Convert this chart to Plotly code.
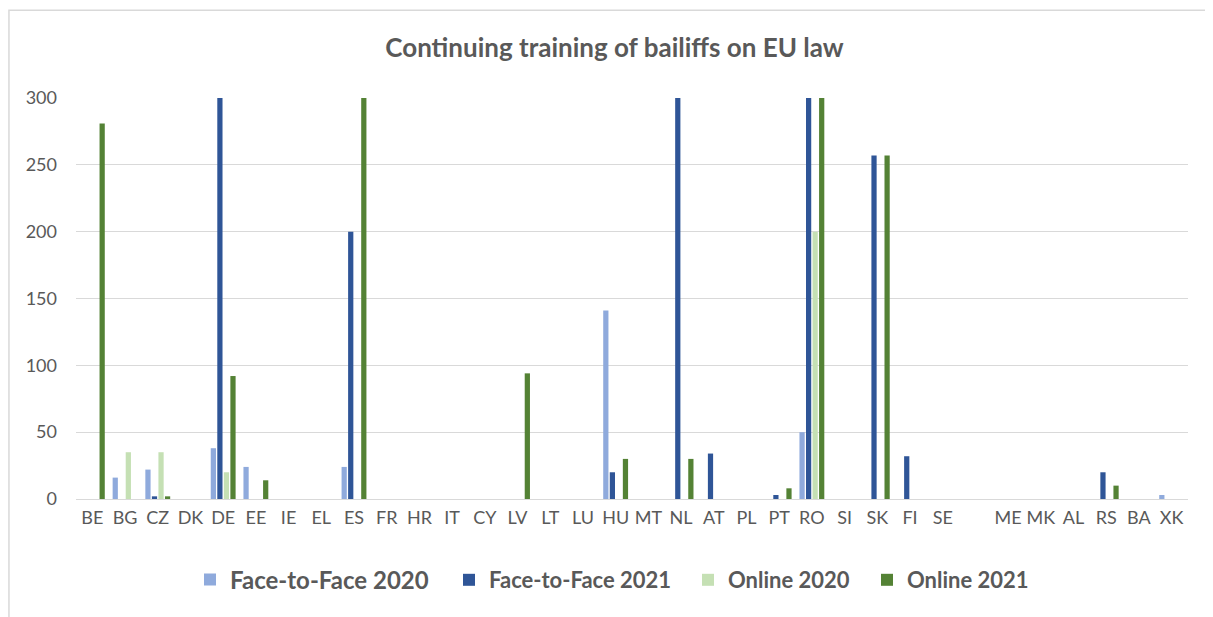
import plotly.graph_objects as go

categories = ["BE", "BG", "CZ", "DK", "DE", "EE", "IE", "EL", "ES", "FR", "HR", "IT", "CY", "LV",
              "LT", "LU", "HU", "MT", "NL", "AT", "PL", "PT", "RO", "SI", "SK", "FI", "SE", " ",
              "ME", "MK", "AL", "RS", "BA", "XK"]

f2f_2020 = [0, 16, 22, 0, 38, 24, 0, 0, 24, 0, 0, 0, 0, 0,
            0, 0, 141, 0, 0, 0, 0, 0, 50, 0, 0, 0, 0, 0,
            0, 0, 0, 0, 0, 3]
f2f_2021 = [0, 0, 2, 0, 300, 0, 0, 0, 200, 0, 0, 0, 0, 0,
            0, 0, 20, 0, 300, 34, 0, 3, 300, 0, 257, 32, 0, 0,
            0, 0, 0, 20, 0, 0]
online_2020 = [0, 35, 35, 0, 20, 0, 0, 0, 0, 0, 0, 0, 0, 0,
               0, 0, 0, 0, 0, 0, 0, 0, 200, 0, 0, 0, 0, 0,
               0, 0, 0, 0, 0, 0]
online_2021 = [281, 0, 2, 0, 92, 14, 0, 0, 300, 0, 0, 0, 0, 94,
               0, 0, 30, 0, 30, 0, 0, 8, 300, 0, 257, 0, 0, 0,
               0, 0, 0, 10, 0, 0]

y_ticks = [0, 50, 100, 150, 200, 250, 300]

series_names = ["Face-to-Face 2020", "Face-to-Face 2021", "Online 2020", "Online 2021"]
series_values = [f2f_2020, f2f_2021, online_2020, online_2021]
series_colors = ["#8FAADC", "#2F5597", "#C5E0B4", "#548235"]
legend_ids = ["legend", "legend2", "legend3", "legend4"]
legend_font_sizes = [24, 22, 22, 22]
legend_left_px = [190, 449, 688, 867]

plot_left, plot_w = 76, 1112

fig = go.Figure()
for name, vals, col, lid in zip(series_names, series_values, series_colors, legend_ids):
    fig.add_trace(go.Bar(x=categories, y=vals, name=name, legend=lid,
                         marker=dict(color=col, line=dict(width=0))))

grey = "#595959"
legend_layouts = {}
for lid, fs, lx in zip(legend_ids, legend_font_sizes, legend_left_px):
    legend_layouts[lid] = dict(orientation="h", x=(lx - plot_left) / plot_w, xanchor="left",
                               y=-0.202, yanchor="middle", bgcolor="rgba(0,0,0,0)",
                               font=dict(size=fs, color=grey, weight="bold"))

fig.update_layout(
    width=1213, height=617,
    barmode="group", bargap=0.2, bargroupgap=0.2,
    paper_bgcolor="white", plot_bgcolor="white",
    font=dict(family="Lato, 'Open Sans', sans-serif", color=grey, size=18),
    title=dict(text="<b>Continuing training of bailiffs on EU law</b>", x=0.5, xanchor="center",
               y=0.935, yanchor="middle", font=dict(size=26, color=grey)),
    margin=dict(l=68, r=33, t=90, b=126, autoexpand=False),
    xaxis=dict(type="category", categoryorder="array", categoryarray=categories,
               showgrid=False, showline=False, ticks="", tickfont=dict(size=18, color=grey),
               ticklabelstandoff=6),
    yaxis=dict(range=[0, 300], tickvals=y_ticks, showgrid=True, gridcolor="#D9D9D9", gridwidth=1,
               zeroline=True, zerolinecolor="#D9D9D9", zerolinewidth=1, showline=False,
               tickfont=dict(size=18, color=grey), ticklabelstandoff=18),
    showlegend=True,
    shapes=[dict(type="path", xref="paper", yref="paper",
                 path="M -0.0603,-0.5 L -0.0603,1.219 L 1.03,1.219",
                 line=dict(color="#D9D9D9", width=1.5), layer="below")],
    **legend_layouts,
)

fig.write_html("out.html")
